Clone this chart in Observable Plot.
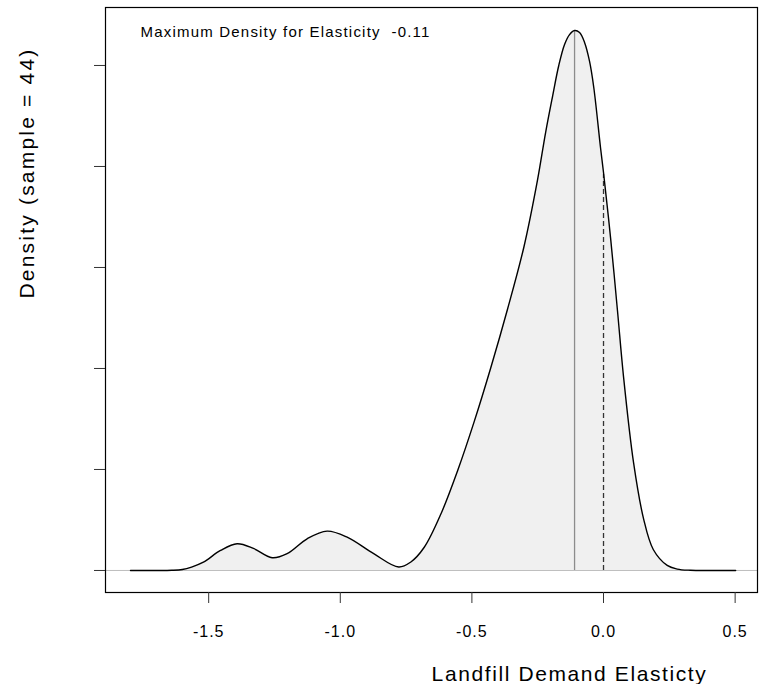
<!DOCTYPE html>
<html>
<head>
<meta charset="utf-8">
<script src="https://cdn.jsdelivr.net/npm/d3@7"></script>
<script src="https://cdn.jsdelivr.net/npm/@observablehq/plot@0.6"></script>
<style>
  html, body { margin: 0; padding: 0; background: white; }
</style>
</head>
<body>
<div id="chart"></div>
<script>
// Kernel density curve
const densityX = [-1.797, -1.700, -1.640, -1.600, -1.565, -1.520, -1.455, -1.392, -1.330, -1.259,
  -1.202, -1.126, -1.050, -0.974, -0.873, -0.778, -0.733, -0.681, -0.617, -0.554,
  -0.491, -0.428, -0.365, -0.302, -0.251, -0.220, -0.193, -0.170, -0.148, -0.129,
  -0.110, -0.091, -0.072, -0.053, -0.037, -0.011, 0.000, 0.027, 0.053, 0.076,
  0.114, 0.152, 0.189, 0.242, 0.280, 0.330, 0.420, 0.502];
const densityY = [0, 0, 0.001, 0.005, 0.017, 0.041, 0.099, 0.132, 0.109, 0.063,
  0.083, 0.157, 0.195, 0.165, 0.083, 0.017, 0.041, 0.115, 0.282, 0.495,
  0.738, 1.005, 1.292, 1.604, 1.931, 2.168, 2.351, 2.500, 2.604, 2.653,
  2.673, 2.663, 2.614, 2.520, 2.391, 2.089, 1.970, 1.644, 1.287, 0.960,
  0.535, 0.257, 0.104, 0.025, 0.007, 0.001, 0, 0];

const modeElasticity = -0.11;
const peakDensity = 2.673;
const zeroElasticity = 0;
const densityAtZero = 1.96;

const xTicks = [-1.5, -1.0, -0.5, 0.0, 0.5];
const yTicks = [0, 0.5, 1.0, 1.5, 2.0, 2.5];

const annotation = "Maximum Density for Elasticity  -0.11";
const xTitle = "Landfill Demand Elasticty";
const yTitle = "Density (sample = 44)";

const curveData = densityX.map((x, i) => ({x, y: densityY[i]}));

const chart = Plot.plot({
  width: 762,
  height: 684,
  marginLeft: 105,
  marginRight: 5,
  marginTop: 7,
  marginBottom: 92,
  style: {fontFamily: "'Liberation Sans', Arial, sans-serif", background: "white", color: "black"},
  x: {domain: [-1.892, 0.585]},
  y: {domain: [-0.109, 2.787]},
  marks: [
    Plot.ruleY([0], {stroke: "#bebebe", strokeWidth: 1}),
    Plot.areaY(curveData, {x: "x", y: "y", fill: "#f0f0f0", curve: "catmull-rom"}),
    Plot.ruleX([modeElasticity], {y1: 0, y2: peakDensity, stroke: "#8c8c8c", strokeWidth: 1.3}),
    Plot.ruleX([zeroElasticity], {y1: 0, y2: densityAtZero, stroke: "#333", strokeWidth: 1.3, strokeDasharray: "5,3"}),
    Plot.line(curveData, {x: "x", y: "y", stroke: "black", strokeWidth: 1.4, curve: "catmull-rom"}),
    Plot.frame({stroke: "black", strokeWidth: 1.2}),
    Plot.axisX({ticks: xTicks, tickSize: 11, tickPadding: 22, tickFormat: d => d.toFixed(1), fontSize: 16, label: null, stroke: "#333"}),
    Plot.axisY({ticks: yTicks, tickSize: 11, tickFormat: () => "", label: null, stroke: "#333"}),
    Plot.text([annotation], {text: d => d, frameAnchor: "top-left", dx: 35, dy: 25, textAnchor: "start", lineAnchor: "middle", fontSize: 15}),
    Plot.text([xTitle], {text: d => d, frameAnchor: "bottom", dx: 138, dy: 82, lineAnchor: "middle", fontSize: 21}),
    Plot.text([yTitle], {text: d => d, frameAnchor: "left", dx: -78, dy: -127, rotate: -90, textAnchor: "middle", lineAnchor: "middle", fontSize: 21})
  ]
});

// widen letter spacing to match the reference's rendering
d3.select(chart).selectAll("text").each(function() {
  const t = this.textContent;
  let ls = 1;
  if (t === annotation) ls = 1.2;
  else if (t === xTitle) ls = 1.6;
  else if (t === yTitle) ls = 2.2;
  d3.select(this).style("letter-spacing", ls + "px");
});

document.getElementById("chart").appendChild(chart);
</script>
</body>
</html>
